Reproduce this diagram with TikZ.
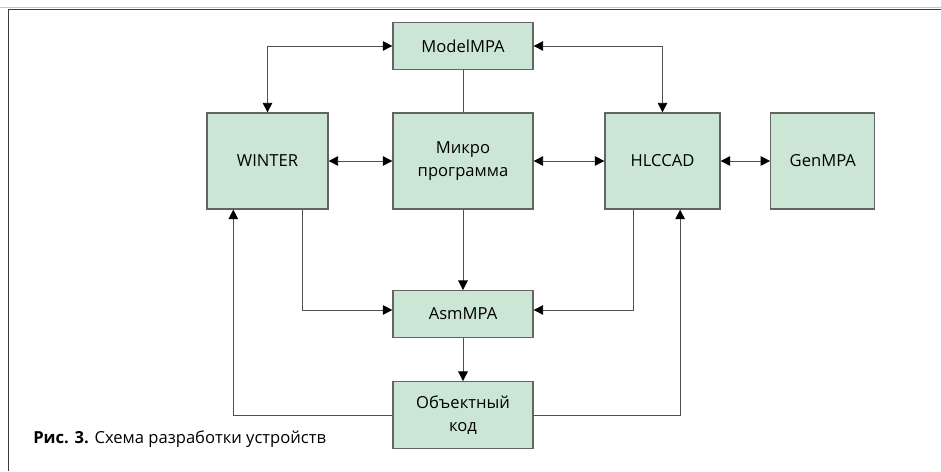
\documentclass[tikz,border=0pt]{standalone}
\usepackage{fontspec}
\setmainfont{Open Sans}
\usetikzlibrary{arrows.meta}

\begin{document}
\begin{tikzpicture}[
	block/.style={draw=boxborder, fill=boxfill, line width=0.9pt, inner sep=0pt, align=center, font=\fontsize{11.8}{16}\selectfont},
	link/.style={draw=linegray, line width=0.7pt},
	>={Triangle[length=0.24cm, width=0.24cm, color=black]}
]
	\definecolor{boxfill}{RGB}{204,230,213}
	\definecolor{boxborder}{RGB}{100,100,100}
	\definecolor{linegray}{RGB}{80,80,80}
	\definecolor{framegray}{RGB}{60,60,60}
	\definecolor{framelight}{RGB}{200,200,200}

	\useasboundingbox (0,0) rectangle (23.525,11.775);

	% frame
	\draw[framelight, line width=0.6pt] (0,11.58) -- (23.525,11.58);
	\draw[framegray, line width=0.9pt] (0.21,0) -- (0.21,11.54) -- (23.525,11.54);

	% blocks
	\node[block, minimum width=3.5cm, minimum height=1.165cm] (model) at (11.575,10.625) {ModelMPA};
	\node[block, minimum width=3.025cm, minimum height=2.4cm] (winter) at (6.6875,7.75) {WINTER};
	\node[block, minimum width=3.5cm, minimum height=2.4cm] (micro) at (11.575,7.75) {Микро\\программа};
	\node[block, minimum width=2.875cm, minimum height=2.4cm] (hlccad) at (16.5625,7.75) {HLCCAD};
	\node[block, minimum width=2.6cm, minimum height=2.4cm] (gen) at (20.57,7.75) {GenMPA};
	\node[block, minimum width=3.5cm, minimum height=1.165cm] (asm) at (11.575,3.925) {AsmMPA};
	\node[block, minimum width=3.5cm, minimum height=1.665cm] (obj) at (11.575,1.4) {Объектный\\код};

	% connectors
	\draw[link, <->] (model.west) -| (winter.north);
	\draw[link, <->] (model.east) -| (hlccad.north);
	\draw[link] (model.south) -- (micro.north);
	\draw[link, <->] (winter.east) -- (micro.west);
	\draw[link, <->] (micro.east) -- (hlccad.west);
	\draw[link, <->] (hlccad.east) -- (gen.west);
	\draw[link, ->] (micro.south) -- (asm.north);
	\draw[link, ->] ([xshift=0.87cm]winter.south) |- ([yshift=0.1cm]asm.west);
	\draw[link, ->] ([xshift=-0.73cm]hlccad.south) |- ([yshift=0.1cm]asm.east);
	\draw[link, ->] (asm.south) -- (obj.north);
	\draw[link, ->] (obj.west) -| ([xshift=-0.855cm]winter.south);
	\draw[link, ->] (obj.east) -| ([xshift=0.44cm]hlccad.south);

	% caption
	\node[anchor=base west, inner sep=0pt, font=\fontsize{11.8}{15}\selectfont] (caption) at (0.825,0.7) {\textbf{Рис. 3.} Схема разработки устройств};
\end{tikzpicture}
\end{document}
